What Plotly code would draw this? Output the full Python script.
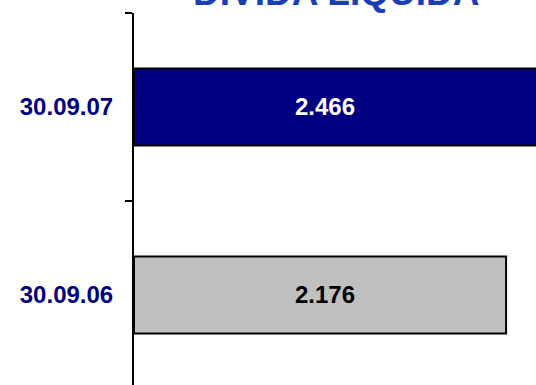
import plotly.graph_objects as go

categories = ["30.09.06", "30.09.07"]
values = [2176, 2466]
value_labels = ["2.176", "2.466"]
bar_colors = ["#c0c0c0", "#000080"]
label_colors = ["black", "white"]
title_text = "DÍVIDA LÍQUIDA"

fig = go.Figure()
fig.add_trace(go.Bar(
    y=categories, x=values, orientation="h",
    marker=dict(color=bar_colors, line=dict(color="black", width=2)),
    width=0.41, hoverinfo="skip",
))

for cat, lab, col in zip(categories, value_labels, label_colors):
    fig.add_annotation(x=0.475, xref="paper", y=cat, yref="y", text="<b>%s</b>" % lab,
                       showarrow=False, font=dict(family="Liberation Sans", size=24, color=col))

fig.add_annotation(x=0.5035, xref="paper", y=1, yref="paper", yanchor="bottom", yshift=-2,
                   text="<b>%s</b>" % title_text, showarrow=False,
                   font=dict(family="Liberation Sans", size=37, color="#1a3fb5"))

fig.update_layout(
    width=536, height=385,
    margin=dict(l=134, r=0, t=13, b=0),
    paper_bgcolor="white", plot_bgcolor="white",
    showlegend=False,
    xaxis=dict(range=[0, 2351], visible=False, showgrid=False, zeroline=False),
    yaxis=dict(
        type="category", range=[-0.479, 1.5],
        showline=True, linecolor="black", linewidth=2,
        ticks="outside", ticklen=7, tickwidth=2, tickcolor="black", tickson="boundaries",
        ticklabelstandoff=14,
        tickfont=dict(family="Liberation Sans", size=24, color="#000080"),
        showgrid=False, zeroline=False,
    ),
)
fig.update_yaxes(tickprefix="<b>", ticksuffix="</b>")
fig.write_html("out.html", config={"displayModeBar": False},
               post_script="document.body.style.margin='0';document.body.style.overflow='hidden';")
